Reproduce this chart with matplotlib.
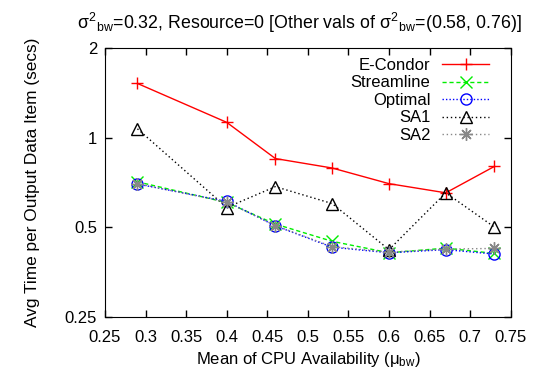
import numpy as np
import matplotlib
matplotlib.use("Agg")
import matplotlib.pyplot as plt
from matplotlib.ticker import FixedLocator, NullLocator, FixedFormatter

plt.rcParams['font.family'] = ['Liberation Sans', 'DejaVu Sans']
plt.rcParams['mathtext.fontset'] = 'custom'
plt.rcParams['mathtext.rm'] = 'Liberation Sans'
plt.rcParams['mathtext.it'] = 'Liberation Sans'

"""Data read from the picture"""
cpuMean = [0.29, 0.40, 0.46, 0.53, 0.60, 0.67, 0.73]
eCondor = [1.52, 1.125, 0.85, 0.79, 0.70, 0.652, 0.80]
streamline = [0.71, 0.605, 0.512, 0.448, 0.41, 0.425, 0.408]
optimal = [0.698, 0.61, 0.505, 0.428, 0.41, 0.42, 0.406]
sa1 = [1.07, 0.582, 0.684, 0.60, 0.42, 0.652, 0.50]
sa2 = [0.70, 0.607, 0.506, 0.43, 0.412, 0.422, 0.424]

xTicks = [0.25, 0.3, 0.35, 0.4, 0.45, 0.5, 0.55, 0.6, 0.65, 0.7, 0.75]
yTicks = [0.25, 0.5, 1, 2]
yTickLabels = ["0.25", "0.5", "1", "2"]

fig = plt.figure(figsize=(5.37, 3.74), dpi=100)
ax = fig.add_axes([0.1955, 0.1532, 0.7555, 0.7185])

ax.plot(cpuMean, eCondor, color='red', linestyle='-', linewidth=1,
        marker='+', markersize=9, label='E-Condor')
ax.plot(cpuMean, streamline, color='#00ee00', linestyle=(0, (3, 2)),
        linewidth=1, marker='x', markersize=8, label='Streamline')
ax.plot(cpuMean, optimal, color='blue', linestyle=(0, (1, 1.5)),
        linewidth=1, marker='o', markersize=8, markerfacecolor='none',
        label='Optimal')
ax.plot(cpuMean, sa1, color='black', linestyle=(0, (1, 2)), linewidth=1,
        marker='^', markersize=8, markerfacecolor='none', label='SA1')
ax.plot(cpuMean, sa2, color='#888888', linestyle=(0, (1, 2)), linewidth=1,
        marker=(8, 2, 0), markersize=9, label='SA2')

ax.set_yscale('log')
ax.set_xlim(0.25, 0.75)
ax.set_ylim(0.25, 2)
ax.xaxis.set_major_locator(FixedLocator(xTicks))
ax.yaxis.set_major_locator(FixedLocator(yTicks))
ax.yaxis.set_major_formatter(FixedFormatter(yTickLabels))
ax.yaxis.set_minor_locator(NullLocator())
ax.set_xticklabels([f"{v:g}" for v in xTicks])
ax.tick_params(direction='in', top=True, right=True, length=5,
               labelsize=12, width=1)
ax.tick_params(axis='x', pad=9.3)
ax.tick_params(axis='y', pad=5.7)

ax.set_xlabel(r"Mean of CPU Availability ($\mu_{\rm bw}$)", fontsize=12)
ax.set_ylabel("Avg Time per Output Data Item (secs)", fontsize=12.4,
              labelpad=17.7)
ax.set_title(r"$\sigma^{2}{}_{\rm bw}$=0.32, Resource=0 [Other vals of $\sigma^{2}{}_{\rm bw}$=(0.58, 0.76)]",
             fontsize=12.8, pad=14, x=0.479)

ax.legend(loc='upper right', bbox_to_anchor=(0.963, 0.988), frameon=False,
          markerfirst=False, fontsize=12, handlelength=2.8,
          labelspacing=0.15, borderaxespad=0, handletextpad=0.72)

fig.savefig("out.png", dpi=100)
